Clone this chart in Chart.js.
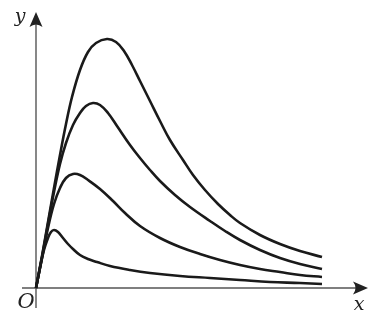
<!DOCTYPE html>
<html>
<head>
<meta charset="utf-8">
<script src="https://cdn.jsdelivr.net/npm/chart.js@4.4.1/dist/chart.umd.min.js"></script>
<style>
html,body{margin:0;padding:0;background:#fff;}
#c{display:block;}
</style>
</head>
<body>
<canvas id="c" width="373" height="316"></canvas>
<script>
// Values (x to the right of O, y above O)
const curve1X = [0, 6, 12, 18, 24, 30, 36, 44, 52, 60, 71, 80, 88, 96, 104, 114, 124, 134, 147, 157, 169, 182, 194, 204, 224, 244, 264, 286];
const curve1Y = [0, 32, 66, 100, 133, 164, 191, 218, 236, 245, 249, 246, 237, 223, 207, 187, 167, 148, 128, 113, 98, 84, 73, 65, 53, 44, 37, 31];

const curve2X = [0, 6, 12, 18, 24, 30, 37, 44, 50, 57, 64, 72, 81, 94, 104, 114, 124, 139, 154, 174, 189, 204, 224, 244, 264, 286];
const curve2Y = [0, 31, 64, 96, 124, 145, 163, 175, 182, 185, 183, 175, 162, 143, 130, 118, 107, 93, 81, 67, 57, 48, 38, 30, 24, 19];

const curve3X = [0, 6, 12, 18, 24, 30, 37, 44, 52, 64, 77, 89, 104, 124, 144, 164, 184, 204, 224, 244, 264, 286];
const curve3Y = [0, 30, 60, 84, 100, 110, 114, 113, 108, 99, 87, 75, 62, 50, 41, 34, 28, 23, 19, 16, 13, 11];

const curve4X = [0, 4, 8, 12, 15, 18, 22, 27, 32, 37, 44, 52, 61, 74, 94, 114, 144, 174, 204, 234, 264, 286];
const curve4Y = [0, 20, 38, 50, 56, 58, 56, 50, 44, 39, 33, 29, 26, 22, 18, 15, 12, 10, 8, 6, 5, 4];

const axisLabels = { x: 'x', y: 'y', origin: 'O' };

function toPoints(xs, ys) { return xs.map((x, i) => ({ x: x, y: ys[i] })); }

const series = [
  toPoints(curve1X, curve1Y),
  toPoints(curve2X, curve2Y),
  toPoints(curve3X, curve3Y),
  toPoints(curve4X, curve4Y)
];

const axesPlugin = {
  id: 'axesPlugin',
  beforeDatasetsDraw(chart) {
    const ctx = chart.ctx;
    const xs = chart.scales.x, ys = chart.scales.y;
    const ox = xs.getPixelForValue(0), oy = ys.getPixelForValue(0);
    const xEnd = xs.getPixelForValue(332), yEnd = ys.getPixelForValue(276);
    const xStart = xs.getPixelForValue(-14), yStart = ys.getPixelForValue(-20);
    ctx.save();
    ctx.strokeStyle = '#555';
    ctx.fillStyle = '#222';
    ctx.lineWidth = 1.4;
    ctx.beginPath(); ctx.moveTo(xStart, oy); ctx.lineTo(xEnd - 6, oy); ctx.stroke();
    ctx.beginPath(); ctx.moveTo(ox, yStart); ctx.lineTo(ox, yEnd + 6); ctx.stroke();
    ctx.beginPath();
    ctx.moveTo(xEnd, oy);
    ctx.lineTo(xEnd - 15, oy - 6.5);
    ctx.quadraticCurveTo(xEnd - 10, oy, xEnd - 15, oy + 6.5);
    ctx.closePath(); ctx.fill();
    ctx.beginPath();
    ctx.moveTo(ox, yEnd);
    ctx.lineTo(ox - 6.5, yEnd + 15);
    ctx.quadraticCurveTo(ox, yEnd + 10, ox + 6.5, yEnd + 15);
    ctx.closePath(); ctx.fill();
    ctx.fillStyle = '#222';
    ctx.textAlign = 'center';
    ctx.textBaseline = 'middle';
    ctx.font = 'italic 21px "DejaVu Serif", "Liberation Serif", serif';
    ctx.fillText(axisLabels.origin, ox - 10, oy + 15);
    ctx.font = 'italic 19px "DejaVu Serif", "Liberation Serif", serif';
    ctx.fillText(axisLabels.y, ox - 16, yEnd + 5);
    ctx.fillText(axisLabels.x, xEnd - 9, oy + 17);
    ctx.restore();
  }
};

new Chart(document.getElementById('c'), {
  type: 'line',
  data: {
    datasets: series.map(pts => ({
      data: pts,
      borderColor: '#1a1a1a',
      borderWidth: 2.6,
      pointRadius: 0,
      fill: false,
      tension: 0.4,
      borderCapStyle: 'butt',
      borderJoinStyle: 'round'
    }))
  },
  options: {
    responsive: false,
    animation: false,
    layout: { padding: 0 },
    plugins: { legend: { display: false }, tooltip: { enabled: false } },
    scales: {
      x: { type: 'linear', min: -36, max: 337, display: false },
      y: { type: 'linear', min: -28, max: 288, display: false }
    }
  },
  plugins: [axesPlugin]
});
</script>
</body>
</html>
